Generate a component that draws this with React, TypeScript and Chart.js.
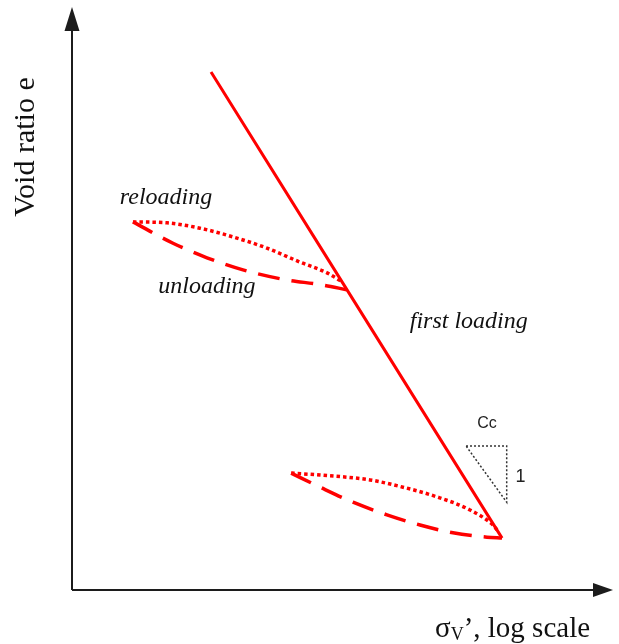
import React, { useEffect, useRef } from "react";
import { Chart, registerables } from "chart.js";

Chart.register(...registerables);

// Effective vertical stress σv' (log axis) and void ratio e for each branch
const firstLoadingStress = [5.92, 245];
const firstLoadingVoid = [1.468, 0.507];

const upperUnloadingStress = [2.18, 3.64, 5.62, 8.91, 14.7, 24.5, 33.7];
const upperUnloadingVoid = [1.159, 1.115, 1.085, 1.06, 1.041, 1.029, 1.019];

const upperReloadingStress = [2.18, 3.37, 5.14, 7.84, 12.1, 18.5, 26.1, 31.2];
const upperReloadingVoid = [1.159, 1.157, 1.146, 1.128, 1.105, 1.076, 1.054, 1.037];

const lowerUnloadingStress = [16.5, 23.9, 36.4, 56.2, 85.8, 130.8, 202, 245];
const lowerUnloadingVoid = [0.641, 0.612, 0.581, 0.555, 0.534, 0.518, 0.509, 0.507];

const lowerReloadingStress = [16.5, 23.9, 45.2, 69.0, 106.6, 162.6, 218, 229.6];
const lowerReloadingVoid = [0.641, 0.637, 0.627, 0.612, 0.592, 0.565, 0.534, 0.524];

// Slope triangle for the compression index Cc
const slopeStress = [154.5, 260, 260, 154.5];
const slopeVoid = [0.697, 0.697, 0.581, 0.697];

// Curve labels, anchored in data coordinates
const labelTexts = ["reloading", "unloading", "first loading"];
const labelStress = [3.33, 5.62, 160];
const labelVoid = [1.208, 1.025, 0.953];

const slopeTexts = ["Cc", "1"];
const slopeTextStress = [202, 310];
const slopeTextVoid = [0.744, 0.633];

const STRESS_MIN = 1;
const STRESS_MAX = 1000;
const VOID_MIN = 0.4;
const VOID_MAX = 1.6;

const RED = "#ff0000";
const AXIS = "#1c1c1c";
const SERIF = "'Liberation Serif', 'Times New Roman', serif";
const SANS = "'Liberation Sans', 'Open Sans', sans-serif";

const pts = (xs: number[], ys: number[]) => xs.map((x, i) => ({ x, y: ys[i] }));

const axesAndText = {
  id: "axesAndText",
  afterDraw(chart: any) {
    const { ctx, chartArea: a, scales } = chart;
    const xs = scales.x;
    const ys = scales.y;
    ctx.save();

    // axis lines with arrow heads
    ctx.strokeStyle = AXIS;
    ctx.fillStyle = AXIS;
    ctx.lineWidth = 2;
    ctx.beginPath();
    ctx.moveTo(a.left, a.bottom);
    ctx.lineTo(a.left, a.top + 20);
    ctx.moveTo(a.left, a.bottom);
    ctx.lineTo(a.right - 16, a.bottom);
    ctx.stroke();

    ctx.beginPath();
    ctx.moveTo(a.left, a.top - 1);
    ctx.lineTo(a.left - 7.5, a.top + 23);
    ctx.lineTo(a.left + 7.5, a.top + 23);
    ctx.closePath();
    ctx.fill();

    ctx.beginPath();
    ctx.moveTo(a.right + 1, a.bottom);
    ctx.lineTo(a.right - 19, a.bottom - 7);
    ctx.lineTo(a.right - 19, a.bottom + 7);
    ctx.closePath();
    ctx.fill();

    // y axis title
    ctx.fillStyle = "#111";
    ctx.font = `30px ${SERIF}`;
    ctx.textAlign = "center";
    ctx.textBaseline = "middle";
    ctx.save();
    ctx.translate(a.left - 46, a.top + 139);
    ctx.rotate(-Math.PI / 2);
    ctx.fillText("Void ratio e", 0, 0);
    ctx.restore();

    // x axis title: σ with subscript v
    ctx.textAlign = "left";
    ctx.textBaseline = "alphabetic";
    let tx = a.right - 177;
    const ty = a.bottom + 47;
    ctx.font = `29px ${SERIF}`;
    ctx.fillText("σ", tx, ty);
    tx += ctx.measureText("σ").width;
    ctx.font = `18px ${SERIF}`;
    ctx.fillText("V", tx, ty + 3);
    tx += ctx.measureText("V").width;
    ctx.font = `29px ${SERIF}`;
    ctx.fillText("’, log scale", tx, ty);

    // curve labels
    ctx.textAlign = "center";
    ctx.textBaseline = "middle";
    ctx.font = `italic 24px ${SERIF}`;
    labelTexts.forEach((t, i) => {
      ctx.fillText(t, xs.getPixelForValue(labelStress[i]), ys.getPixelForValue(labelVoid[i]));
    });

    ctx.fillStyle = "#222";
    ctx.font = `16px ${SANS}`;
    ctx.fillText(slopeTexts[0], xs.getPixelForValue(slopeTextStress[0]), ys.getPixelForValue(slopeTextVoid[0]));
    ctx.font = `18px ${SANS}`;
    ctx.fillText(slopeTexts[1], xs.getPixelForValue(slopeTextStress[1]), ys.getPixelForValue(slopeTextVoid[1]));

    ctx.restore();
  },
};

export default function App() {
  const canvasRef = useRef<HTMLCanvasElement | null>(null);

  useEffect(() => {
    const canvas = canvasRef.current;
    if (!canvas) return;

    const curve = (data: any, dash: number[], width: number) => ({
      data,
      borderColor: RED,
      borderWidth: width,
      borderDash: dash,
      borderCapStyle: "butt",
      pointRadius: 0,
      showLine: true,
      fill: false,
      cubicInterpolationMode: "monotone",
      clip: false,
    });

    const chart = new Chart(canvas, {
      type: "scatter",
      data: {
        datasets: [
          curve(pts(firstLoadingStress, firstLoadingVoid), [], 3),
          curve(pts(upperUnloadingStress, upperUnloadingVoid), [22, 12], 3.5),
          curve(pts(upperReloadingStress, upperReloadingVoid), [3.5, 3], 3.5),
          curve(pts(lowerUnloadingStress, lowerUnloadingVoid), [22, 12], 3.5),
          curve(pts(lowerReloadingStress, lowerReloadingVoid), [3.5, 3], 3.5),
          {
            data: pts(slopeStress, slopeVoid),
            borderColor: "#333",
            borderWidth: 1.5,
            borderDash: [2, 2],
            pointRadius: 0,
            showLine: true,
            fill: false,
            tension: 0,
            clip: false,
          },
        ] as any,
      },
      options: {
        animation: false,
        responsive: false,
        devicePixelRatio: 1,
        layout: { padding: { left: 72, top: 8, right: 7, bottom: 54 } },
        plugins: { legend: { display: false }, tooltip: { enabled: false } },
        events: [],
        scales: {
          x: { type: "logarithmic", min: STRESS_MIN, max: STRESS_MAX, display: false },
          y: { type: "linear", min: VOID_MIN, max: VOID_MAX, display: false },
        },
      },
      plugins: [axesAndText],
    });

    return () => chart.destroy();
  }, []);

  return (
    <div style={{ position: "fixed", left: 0, top: 0, width: 619, height: 644, background: "#fff" }}>
      <canvas ref={canvasRef} width={619} height={644} style={{ width: 619, height: 644, display: "block" }} />
    </div>
  );
}
